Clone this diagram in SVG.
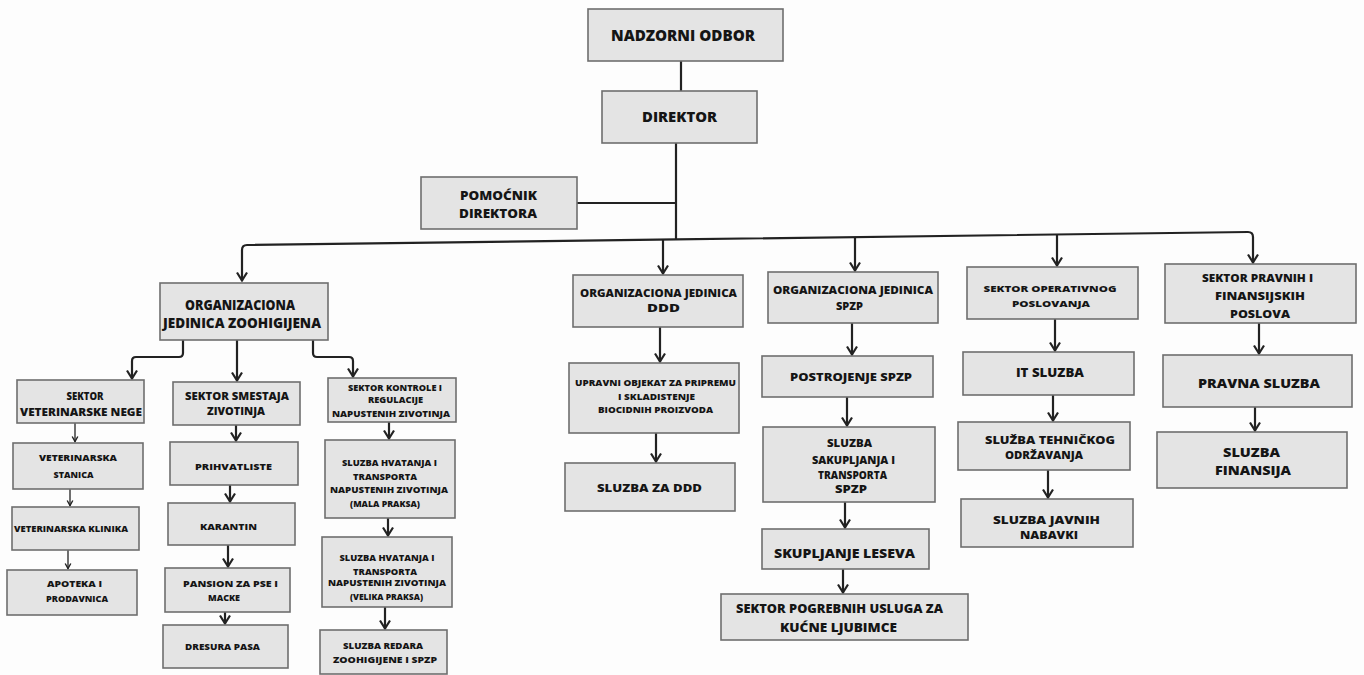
<svg xmlns="http://www.w3.org/2000/svg" width="1364" height="675" viewBox="0 0 1364 675">
<defs>
<marker id="ah" markerUnits="userSpaceOnUse" markerWidth="12" markerHeight="12" viewBox="0 0 12 12" refX="10.5" refY="6" orient="auto">
<path d="M2,1 L10,6 L2,11" fill="none" stroke="#222" stroke-width="2.2" stroke-linejoin="miter"/>
</marker>
<marker id="ahs" markerUnits="userSpaceOnUse" markerWidth="8" markerHeight="8" viewBox="0 0 8 8" refX="7" refY="4" orient="auto">
<path d="M1.5,1.2 L6.5,4 L1.5,6.8" fill="none" stroke="#222" stroke-width="1.4"/>
</marker>
</defs>
<style>
.b{fill:#e4e4e4;stroke:#6e6e6e;stroke-width:1.6}
.t{font-family:"Open Sans",Lato,"Liberation Sans",sans-serif;font-weight:800;fill:#151515;text-anchor:middle}
.c{fill:none;stroke:#222;stroke-width:2.2;stroke-linejoin:round}
.a{fill:none;stroke:#222;stroke-width:2.2;marker-end:url(#ah)}
.s{fill:none;stroke:#222;stroke-width:1.3;marker-end:url(#ahs)}
</style>
<rect width="1364" height="675" fill="#fdfdfd"/>
<g id="connectors">
<line class="c" x1="681" y1="61" x2="681" y2="91"/>
<line class="c" x1="676" y1="143" x2="676" y2="240"/>
<line class="c" x1="577" y1="203" x2="676" y2="203"/>
<path class="a" d="M676,239.4 L247,245 Q242,245 242,250 L242,281"/>
<path class="a" d="M676,239.4 L1248,232 Q1253,232 1253,237 L1253,263"/>
<line class="a" x1="663" y1="239.6" x2="663" y2="274"/>
<line class="a" x1="855" y1="237.1" x2="855" y2="271"/>
<line class="a" x1="1057" y1="234.5" x2="1057" y2="266"/>
<path class="a" d="M183,340 L183,353 Q183,357 179,357 L136,357 Q132,357 132,361 L132,379"/>
<line class="a" x1="237" y1="340" x2="237" y2="381"/>
<path class="a" d="M313,340 L313,353 Q313,357 317,357 L349,357 Q353,357 353,361 L353,377"/>
<line class="s" x1="75" y1="423" x2="75" y2="442"/>
<line class="s" x1="70" y1="489" x2="70" y2="506"/>
<line class="s" x1="68" y1="550" x2="68" y2="569"/>
<line class="a" x1="236" y1="425" x2="236" y2="441"/>
<line class="a" x1="230" y1="485" x2="230" y2="502"/>
<line class="a" x1="228" y1="545" x2="228" y2="567"/>
<line class="a" x1="225" y1="612" x2="225" y2="624"/>
<line class="a" x1="389" y1="414" x2="389" y2="439"/>
<line class="a" x1="388" y1="518" x2="388" y2="536"/>
<line class="a" x1="385" y1="607" x2="385" y2="629"/>
<line class="a" x1="660" y1="327" x2="660" y2="362"/>
<line class="a" x1="656" y1="433" x2="656" y2="462"/>
<line class="a" x1="852" y1="323" x2="852" y2="355"/>
<line class="a" x1="847" y1="397" x2="847" y2="426"/>
<line class="a" x1="845" y1="502" x2="845" y2="528"/>
<line class="a" x1="843" y1="569" x2="843" y2="593"/>
<line class="a" x1="1055" y1="319" x2="1055" y2="351"/>
<line class="a" x1="1053" y1="395" x2="1053" y2="421"/>
<line class="a" x1="1048" y1="470" x2="1048" y2="498"/>
<line class="a" x1="1259" y1="323" x2="1259" y2="354"/>
<line class="a" x1="1255" y1="407" x2="1255" y2="431"/>
</g>
<g id="nadzorni-odbor"><rect class="b" x="588" y="9" width="195" height="52"/><text class="t" x="683" y="41" font-size="15.5" textLength="144" lengthAdjust="spacingAndGlyphs">NADZORNI ODBOR</text></g>
<g id="direktor"><rect class="b" x="602" y="91" width="155" height="52"/><text class="t" x="679.5" y="122" font-size="14.5" textLength="75" lengthAdjust="spacingAndGlyphs">DIREKTOR</text></g>
<g id="pomocnik-direktora"><rect class="b" x="421" y="177" width="156" height="52"/><text class="t" x="498.5" y="200" font-size="13" textLength="77" lengthAdjust="spacingAndGlyphs">POMOĆNIK</text><text class="t" x="498" y="218" font-size="13" textLength="78" lengthAdjust="spacingAndGlyphs">DIREKTORA</text></g>
<g id="oj-zoohigijena"><rect class="b" x="160" y="283" width="168" height="57"/><text class="t" x="240" y="310" font-size="13.5" textLength="110" lengthAdjust="spacingAndGlyphs">ORGANIZACIONA</text><text class="t" x="242" y="328" font-size="13.5" textLength="158" lengthAdjust="spacingAndGlyphs">JEDINICA ZOOHIGIJENA</text></g>
<g id="sektor-veterinarske-nege"><rect class="b" x="17" y="380" width="127" height="43"/><text class="t" x="85" y="400" font-size="11" textLength="37" lengthAdjust="spacingAndGlyphs">SEKTOR</text><text class="t" x="81" y="416" font-size="11" textLength="122" lengthAdjust="spacingAndGlyphs">VETERINARSKE NEGE</text></g>
<g id="sektor-smestaja"><rect class="b" x="173" y="382" width="127" height="43"/><text class="t" x="237" y="400" font-size="10.5" textLength="104" lengthAdjust="spacingAndGlyphs">SEKTOR SMESTAJA</text><text class="t" x="236" y="415" font-size="10.5" textLength="58" lengthAdjust="spacingAndGlyphs">ZIVOTINJA</text></g>
<g id="sektor-kontrole"><rect class="b" x="328" y="378" width="128" height="44"/><text class="t" x="395" y="391" font-size="8.5" textLength="94" lengthAdjust="spacingAndGlyphs">SEKTOR KONTROLE I</text><text class="t" x="395.5" y="403" font-size="8.5" textLength="55" lengthAdjust="spacingAndGlyphs">REGULACIJE</text><text class="t" x="391" y="417" font-size="8.5" textLength="118" lengthAdjust="spacingAndGlyphs">NAPUSTENIH ZIVOTINJA</text></g>
<g id="veterinarska-stanica"><rect class="b" x="13" y="443" width="130" height="46"/><text class="t" x="78" y="461" font-size="9" textLength="78" lengthAdjust="spacingAndGlyphs">VETERINARSKA</text><text class="t" x="73.5" y="478" font-size="9" textLength="40" lengthAdjust="spacingAndGlyphs">STANICA</text></g>
<g id="veterinarska-klinika"><rect class="b" x="12" y="507" width="127" height="43"/><text class="t" x="71" y="532" font-size="9" textLength="114" lengthAdjust="spacingAndGlyphs">VETERINARSKA KLINIKA</text></g>
<g id="apoteka"><rect class="b" x="7" y="570" width="130" height="45"/><text class="t" x="74.5" y="587" font-size="9" textLength="55" lengthAdjust="spacingAndGlyphs">APOTEKA I</text><text class="t" x="77" y="602" font-size="9" textLength="62" lengthAdjust="spacingAndGlyphs">PRODAVNICA</text></g>
<g id="prihvatliste"><rect class="b" x="170" y="442" width="128" height="43"/><text class="t" x="233.5" y="470" font-size="9.5" textLength="77" lengthAdjust="spacingAndGlyphs">PRIHVATLISTE</text></g>
<g id="karantin"><rect class="b" x="168" y="503" width="127" height="42"/><text class="t" x="228.5" y="530" font-size="9.5" textLength="57" lengthAdjust="spacingAndGlyphs">KARANTIN</text></g>
<g id="pansion"><rect class="b" x="165" y="568" width="125" height="44"/><text class="t" x="230.5" y="587" font-size="8.5" textLength="95" lengthAdjust="spacingAndGlyphs">PANSION  ZA PSE I</text><text class="t" x="224" y="601" font-size="8.5" textLength="32" lengthAdjust="spacingAndGlyphs">MACKE</text></g>
<g id="dresura-pasa"><rect class="b" x="163" y="625" width="125" height="43"/><text class="t" x="222.5" y="650" font-size="8.5" textLength="75" lengthAdjust="spacingAndGlyphs">DRESURA PASA</text></g>
<g id="sluzba-hvatanja-mala"><rect class="b" x="325" y="440" width="130" height="78"/><text class="t" x="389.5" y="466" font-size="8.5" textLength="95" lengthAdjust="spacingAndGlyphs">SLUZBA HVATANJA I</text><text class="t" x="385" y="480" font-size="8.5" textLength="64" lengthAdjust="spacingAndGlyphs">TRANSPORTA</text><text class="t" x="389" y="493" font-size="8.5" textLength="118" lengthAdjust="spacingAndGlyphs">NAPUSTENIH ZIVOTINJA</text><text class="t" x="385" y="507" font-size="8.5" textLength="70" lengthAdjust="spacingAndGlyphs">(MALA PRAKSA)</text></g>
<g id="sluzba-hvatanja-velika"><rect class="b" x="322" y="537" width="130" height="70"/><text class="t" x="387" y="561" font-size="8.5" textLength="95" lengthAdjust="spacingAndGlyphs">SLUZBA HVATANJA I</text><text class="t" x="385" y="575" font-size="8.5" textLength="64" lengthAdjust="spacingAndGlyphs">TRANSPORTA</text><text class="t" x="387" y="586" font-size="8.5" textLength="118" lengthAdjust="spacingAndGlyphs">NAPUSTENIH ZIVOTINJA</text><text class="t" x="386.5" y="600" font-size="8.5" textLength="73" lengthAdjust="spacingAndGlyphs">(VELIKA PRAKSA)</text></g>
<g id="sluzba-redara"><rect class="b" x="320" y="630" width="127" height="44"/><text class="t" x="383" y="649" font-size="8.5" textLength="80" lengthAdjust="spacingAndGlyphs">SLUZBA REDARA</text><text class="t" x="385" y="663" font-size="8.5" textLength="104" lengthAdjust="spacingAndGlyphs">ZOOHIGIJENE I SPZP</text></g>
<g id="oj-ddd"><rect class="b" x="573" y="275" width="170" height="52"/><text class="t" x="658.5" y="297" font-size="10" textLength="157" lengthAdjust="spacingAndGlyphs">ORGANIZACIONA JEDINICA</text><text class="t" x="663.5" y="312" font-size="10" textLength="33" lengthAdjust="spacingAndGlyphs">DDD</text></g>
<g id="upravni-objekat"><rect class="b" x="569" y="363" width="170" height="70"/><text class="t" x="655.5" y="386" font-size="8.5" textLength="161" lengthAdjust="spacingAndGlyphs">UPRAVNI OBJEKAT ZA PRIPREMU</text><text class="t" x="656.5" y="400" font-size="8.5" textLength="77" lengthAdjust="spacingAndGlyphs">I SKLADISTENJE</text><text class="t" x="655.5" y="413" font-size="8.5" textLength="115" lengthAdjust="spacingAndGlyphs">BIOCIDNIH PROIZVODA</text></g>
<g id="sluzba-za-ddd"><rect class="b" x="565" y="463" width="170" height="48"/><text class="t" x="649.5" y="492" font-size="11" textLength="105" lengthAdjust="spacingAndGlyphs">SLUZBA ZA DDD</text></g>
<g id="oj-spzp"><rect class="b" x="768" y="272" width="170" height="51"/><text class="t" x="853" y="294" font-size="10" textLength="160" lengthAdjust="spacingAndGlyphs">ORGANIZACIONA JEDINICA</text><text class="t" x="849.5" y="310" font-size="10" textLength="27" lengthAdjust="spacingAndGlyphs">SPZP</text></g>
<g id="postrojenje-spzp"><rect class="b" x="762" y="356" width="171" height="41"/><text class="t" x="851" y="381" font-size="11" textLength="122" lengthAdjust="spacingAndGlyphs">POSTROJENJE SPZP</text></g>
<g id="sluzba-sakupljanja"><rect class="b" x="763" y="427" width="172" height="75"/><text class="t" x="849.5" y="447" font-size="10" textLength="45" lengthAdjust="spacingAndGlyphs">SLUZBA</text><text class="t" x="853.5" y="464" font-size="10" textLength="83" lengthAdjust="spacingAndGlyphs">SAKUPLJANJA I</text><text class="t" x="852.5" y="479" font-size="10" textLength="69" lengthAdjust="spacingAndGlyphs">TRANSPORTA</text><text class="t" x="851" y="493" font-size="10" textLength="32" lengthAdjust="spacingAndGlyphs">SPZP</text></g>
<g id="skupljanje-leseva"><rect class="b" x="762" y="529" width="167" height="40"/><text class="t" x="844.5" y="558" font-size="12" textLength="141" lengthAdjust="spacingAndGlyphs">SKUPLJANJE LESEVA</text></g>
<g id="sektor-pogrebnih"><rect class="b" x="721" y="594" width="247" height="46"/><text class="t" x="839.5" y="613" font-size="12" textLength="207" lengthAdjust="spacingAndGlyphs">SEKTOR POGREBNIH USLUGA ZA</text><text class="t" x="838.5" y="632" font-size="12" textLength="117" lengthAdjust="spacingAndGlyphs">KUĆNE LJUBIMCE</text></g>
<g id="sektor-operativnog"><rect class="b" x="967" y="267" width="171" height="52"/><text class="t" x="1050" y="292" font-size="9.5" textLength="133" lengthAdjust="spacingAndGlyphs">SEKTOR OPERATIVNOG</text><text class="t" x="1051" y="307" font-size="9.5" textLength="78" lengthAdjust="spacingAndGlyphs">POSLOVANJA</text></g>
<g id="it-sluzba"><rect class="b" x="963" y="352" width="171" height="43"/><text class="t" x="1050" y="377" font-size="11.5" textLength="68" lengthAdjust="spacingAndGlyphs">IT SLUZBA</text></g>
<g id="sluzba-tehnickog"><rect class="b" x="958" y="422" width="172" height="48"/><text class="t" x="1050" y="444" font-size="10" textLength="130" lengthAdjust="spacingAndGlyphs">SLUŽBA TEHNIČKOG</text><text class="t" x="1044" y="459" font-size="10" textLength="78" lengthAdjust="spacingAndGlyphs">ODRŽAVANJA</text></g>
<g id="sluzba-javnih-nabavki"><rect class="b" x="961" y="499" width="172" height="48"/><text class="t" x="1046.5" y="524" font-size="10.5" textLength="107" lengthAdjust="spacingAndGlyphs">SLUZBA JAVNIH</text><text class="t" x="1049" y="539" font-size="10.5" textLength="58" lengthAdjust="spacingAndGlyphs">NABAVKI</text></g>
<g id="sektor-pravnih"><rect class="b" x="1165" y="264" width="191" height="59"/><text class="t" x="1257.5" y="282" font-size="11" textLength="111" lengthAdjust="spacingAndGlyphs">SEKTOR PRAVNIH I</text><text class="t" x="1260" y="300" font-size="11" textLength="90" lengthAdjust="spacingAndGlyphs">FINANSIJSKIH</text><text class="t" x="1260" y="318" font-size="11" textLength="60" lengthAdjust="spacingAndGlyphs">POSLOVA</text></g>
<g id="pravna-sluzba"><rect class="b" x="1163" y="355" width="189" height="52"/><text class="t" x="1259" y="388" font-size="13" textLength="122" lengthAdjust="spacingAndGlyphs">PRAVNA SLUZBA</text></g>
<g id="sluzba-finansija"><rect class="b" x="1157" y="432" width="190" height="56"/><text class="t" x="1251.5" y="457" font-size="13" textLength="57" lengthAdjust="spacingAndGlyphs">SLUZBA</text><text class="t" x="1253" y="475" font-size="13" textLength="76" lengthAdjust="spacingAndGlyphs">FINANSIJA</text></g>
</svg>
